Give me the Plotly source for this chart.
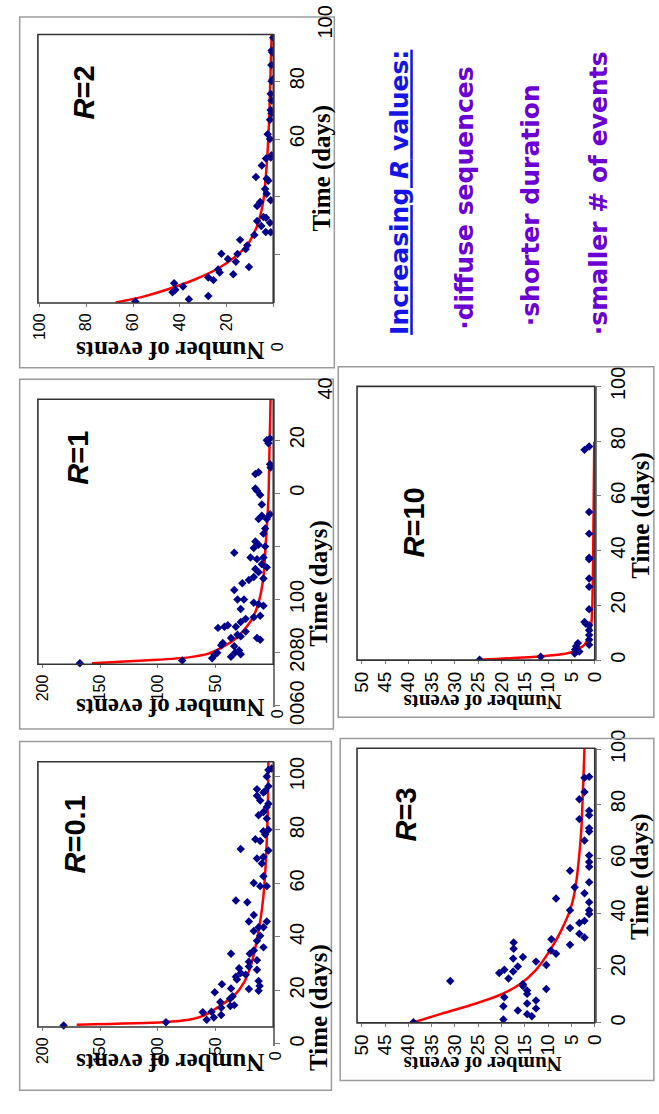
import plotly.graph_objects as go

W, H = 659, 1114

# ---------------- data ----------------
# R = 0.1
r01_events = [181.7, 93.0, 57.7, 51.5, 61.1, 53.5, 45.1, 45.1, 45.9, 37.2,
              33.8, 37.5, 35.2, 50.7, 44.5, 36.6, 32.4, 31.5, 28.2, 23.9,
              21.1, 12.7, 11.8, 12.7, 36.6, 29.6, 21.1, 21.1, 14.1, 20.3,
              16.9, 14.1, 14.1, 11.3, 16.9, 21.1, 16.9, 8.5, 12.7, 8.5,
              5.6, 32.4, 22.5, 16.9, 11.3, 8.5, 5.6, 9.9, 8.5, 14.1,
              4.2, 28.2, 15.5, 11.3, 8.5, 7.0, 4.2, 5.6, 12.7, 8.5,
              5.6, 4.2, 8.5, 7.0, 4.2, 14.1, 14.1, 11.3, 5.6, 4.2,
              1.4]
r01_days = [6.9, 8.1, 9.0, 9.9, 11.8, 12.0, 10.8, 13.5, 15.7, 14.2,
            14.5, 16.9, 17.8, 19.3, 22.3, 20.7, 25.1, 24.1, 26.5, 25.9,
            20.5, 19.9, 21.7, 23.5, 33.7, 28.3, 28.9, 30.7, 27.7, 33.7,
            34.9, 31.3, 38.6, 40.4, 42.2, 45.8, 48.2, 36.1, 43.6, 43.6,
            45.8, 53.6, 53.0, 60.2, 59.0, 62.7, 59.0, 67.5, 69.9, 69.3,
            72.3, 72.9, 76.5, 75.9, 79.5, 78.3, 80.1, 84.3, 85.5, 86.7,
            88.6, 89.8, 94.0, 94.6, 96.4, 95.2, 92.8, 91.0, 100.0, 102.4,
            103.0]
r01_fit_events = [170.4, 95.8, 73.2, 59.2, 45.1, 33.8, 25.4, 19.7, 15.5, 11.3, 8.5, 6.2, 4.8, 4.2]
r01_fit_days = [7.2, 8.1, 9.0, 10.8, 14.5, 18.1, 22.9, 28.9, 36.1, 45.8, 55.4, 69.9, 85.5, 105.5]

# R = 1
r1_events = [167.6, 78.9, 53.0, 50.7, 48.5, 36.6, 33.0, 28.2, 29.6, 33.8,
             45.1, 43.7, 36.6, 31.0, 28.2, 23.9, 14.1, 11.3, 47.9, 42.3,
             39.4, 32.4, 28.2, 23.9, 16.9, 11.3, 28.2, 31.0, 25.4, 16.9,
             12.7, 8.5, 33.8, 26.8, 21.1, 16.9, 12.7, 8.5, 15.5, 9.9,
             5.6, 33.8, 19.7, 14.1, 8.5, 16.9, 12.7, 7.0, 15.5, 8.5,
             7.0, 12.7, 9.9, 5.6, 2.8, 15.5, 14.1, 11.3, 9.9, 15.5,
             12.7, 2.3, 2.8, 4.2, 2.8, 5.6]
r1_days = [16.0, 17.0, 17.9, 19.2, 19.9, 18.4, 20.0, 19.4, 20.8, 22.4,
           22.8, 23.6, 25.5, 26.7, 26.1, 27.9, 25.5, 24.8, 29.3, 29.7,
           30.3, 29.7, 31.5, 32.7, 33.3, 33.9, 36.4, 40.0, 40.0, 38.8,
           38.2, 37.6, 43.6, 46.1, 47.3, 48.5, 50.3, 47.9, 51.5, 53.3,
           52.1, 57.6, 55.8, 55.2, 55.8, 59.4, 60.6, 60.0, 61.8, 64.8,
           66.7, 70.3, 71.5, 70.3, 72.1, 81.8, 81.0, 79.4, 75.8, 87.3,
           87.9, 89.7, 90.9, 98.8, 100.6, 100.0]
r1_fit_events = [157.2, 104.2, 73.2, 56.3, 45.1, 33.8, 25.4, 18.3, 12.7, 8.5, 6.2, 4.2, 3.4, 2.3]
r1_fit_days = [16.0, 17.2, 18.2, 19.6, 21.8, 24.8, 28.5, 32.7, 38.8, 48.5, 63.0, 77.6, 93.3, 115.4]

# R = 2
r2_events = [59.0, 36.1, 43.1, 41.9, 42.4, 38.6, 27.8, 27.8, 25.6, 22.9,
             17.1, 23.6, 19.4, 22.2, 16.0, 10.4, 15.3, 14.2, 11.8, 11.1,
             8.1, 6.9, 5.1, 3.2, 1.1, 4.2, 3.1, 1.4, 6.9, 5.6,
             1.1, 7.4, 3.5, 2.8, 2.1, 2.8, 3.1, 1.1, 0.7, 4.9,
             1.4, 2.4, 1.4, 0.7, 1.1, 0.7, 1.1, 0.7, 0.3, 0.8,
             0.4, 0.7, 0.0]
r2_days = [3.9, 4.7, 7.1, 8.0, 10.2, 9.1, 12.2, 5.8, 11.3, 13.9,
           13.3, 15.0, 18.6, 20.4, 17.6, 15.8, 20.3, 25.2, 22.0, 23.3,
           26.9, 31.7, 30.0, 27.9, 27.8, 33.1, 32.8, 31.1, 36.9, 38.3,
           38.9, 46.9, 42.8, 41.1, 45.6, 46.3, 53.3, 53.6, 54.4, 50.9,
           60.0, 61.7, 66.7, 68.9, 70.0, 73.3, 75.6, 80.0, 80.6, 85.6,
           90.0, 90.6, 95.0]
r2_fit_events = [67.4, 55.6, 44.4, 33.3, 23.6, 16.7, 11.1, 6.9, 4.2, 2.8, 1.7, 0.7]
r2_fit_days = [3.6, 5.6, 8.3, 11.6, 15.3, 19.1, 23.3, 30.0, 38.9, 51.1, 67.8, 96.1]

# R = 3
r3_events = [38.9, 31.0, 19.6, 20.5, 19.4, 19.6, 19.4, 18.5, 17.5, 17.5,
             17.4, 17.4, 16.5, 16.5, 15.4, 15.4, 15.4, 14.5, 14.5, 14.5,
             14.5, 13.5, 12.6, 12.6, 12.6, 10.4, 10.4, 9.4, 8.3, 8.3,
             9.3, 5.3, 5.3, 5.3, 5.3, 4.3, 3.3, 3.3, 2.2, 2.2,
             2.2, 2.2, 2.2, 2.2, 3.3, 3.3, 1.2, 1.2, 1.2, 1.2,
             1.2, 1.2, 1.2, 1.2, 1.2, 1.2, 1.2, 1.2]
r3_days = [0.2, 15.3, 1.2, 18.2, 19.4, 6.1, 9.4, 16.2, 18.8, 23.5,
           27.1, 29.4, 20.6, 4.5, 24.1, 14.1, 13.5, 10.6, 11.8, 7.1,
           3.2, 2.4, 22.4, 8.2, 5.3, 12.4, 21.2, 26.5, 25.3, 45.5,
           30.6, 28.6, 34.7, 41.2, 55.6, 49.6, 32.6, 36.5, 31.2, 37.3,
           47.4, 66.7, 84.4, 89.6, 74.5, 81.8, 90.0, 39.8, 41.2, 44.1,
           51.4, 57.1, 58.8, 61.2, 70.0, 71.2, 75.9, 77.6]
r3_fit_events = [38.9, 32.8, 25.8, 20.3, 16.1, 12.6, 9.2, 7.1, 5.3, 4.2, 3.5, 2.9, 2.6, 2.2]
r3_fit_days = [0.2, 3.4, 6.9, 10.2, 14.1, 19.4, 27.6, 34.1, 41.2, 48.8, 58.2, 70.0, 81.8, 100.4]

# R = 10
r10_events = [24.7, 11.6, 4.3, 4.2, 4.0, 3.6, 3.3, 2.2, 1.9, 1.2,
              1.2, 1.2, 1.2, 1.2, 1.2, 1.2, 1.2, 1.2, 1.2, 1.2,
              1.2, 2.2, 1.2]
r10_days = [0.1, 1.2, 2.4, 3.9, 5.1, 6.2, 3.1, 13.9, 13.3, 5.6,
            7.4, 9.2, 10.9, 12.7, 18.6, 26.8, 29.8, 36.8, 37.4, 46.2,
            54.1, 76.8, 78.0]
r10_fit_events = [24.7, 12.6, 7.1, 4.3, 2.2, 1.2, 0.7, 0.5, 0.3, 0.1]
r10_fit_days = [0.1, 1.2, 2.1, 3.3, 5.6, 9.2, 13.9, 20.9, 44.5, 79.8]

r_labels = ["0.1", "1", "2", "3", "10"]

top_events_ticks = [0, 50, 100, 150, 200]
r2_events_ticks = [0, 20, 40, 60, 80, 100]
bottom_events_ticks = [0, 5, 10, 15, 20, 25, 30, 35, 40, 45, 50]
day_ticks = [0, 20, 40, 60, 80, 100]
r1_day_ticks = [0, 20, 40, 60, 80, 100]
r1_day_ticktext = ["0060", "2080", "100", "", "0", "20"]
r2_day_ticks = [20, 40, 60, 80]
r2_day_ticktext = ["", "", "60", "80"]

summary_title = "Increasing <i>R</i> values:"
summary_items = ["·diffuse sequences", "·shorter duration", "·smaller # of events"]

# ---------------- helpers ----------------
def px(x):
    return x / W


def py(y):
    return 1 - y / H


NAVY = "#00008B"
RED = "#FF0000"
BOXC = "#333333"
AXC = "#7a7a7a"
FRAME = "#9a9a9a"
SANS = "Liberation Sans, Arial, sans-serif"
SERIF = "Liberation Serif, Times New Roman, serif"
TEXTF = "DejaVu Sans, sans-serif"

panels = [
    dict(ev=r01_events, dy=r01_days, fe=r01_fit_events, fd=r01_fit_days, lab=r_labels[0],
         box=(31.7, 768, 273.3, 1042.5), xr=[204, 0], ydom=(768, 1062), yr=[-0.7, 105.5],
         xt=top_events_ticks, xtt=["", "50", "100", "150", "200"], xfs=16,
         yt=day_ticks, ytt=[str(v) for v in day_ticks], yfs=20),
    dict(ev=r1_events, dy=r1_days, fe=r1_fit_events, fd=r1_fit_days, lab=r_labels[1],
         box=(31.7, 392.7, 273.3, 667), xr=[204, 0], ydom=(392.7, 711), yr=[-0.4, 115.4],
         xt=top_events_ticks, xtt=["", "50", "100", "150", "200"], xfs=16,
         yt=r1_day_ticks, ytt=r1_day_ticktext, yfs=20),
    dict(ev=r2_events, dy=r2_days, fe=r2_fit_events, fd=r2_fit_days, lab=r_labels[2],
         box=(31.7, 15, 273.3, 293), xr=[100.7, 0], ydom=(15, 293), yr=[3.4, 96.1],
         xt=r2_events_ticks, xtt=["", "20", "40", "60", "80", "100"], xfs=16,
         yt=r2_day_ticks, ytt=r2_day_ticktext, yfs=20),
    dict(ev=r3_events, dy=r3_days, fe=r3_fit_events, fd=r3_fit_days, lab=r_labels[3],
         box=(359.3, 754, 603.3, 1038.3), xr=[51, 0], ydom=(754, 1038.3), yr=[0, 100.4],
         xt=bottom_events_ticks, xtt=[str(v) for v in bottom_events_ticks], xfs=19,
         yt=day_ticks, ytt=[str(v) for v in day_ticks], yfs=20),
    dict(ev=r10_events, dy=r10_days, fe=r10_fit_events, fd=r10_fit_days, lab=r_labels[4],
         box=(359.3, 379.3, 603.3, 662.7), xr=[51, 0], ydom=(379.3, 662.7), yr=[0, 100],
         xt=bottom_events_ticks, xtt=[str(v) for v in bottom_events_ticks], xfs=19,
         yt=day_ticks, ytt=[str(v) for v in day_ticks], yfs=20),
]

fig = go.Figure()
shapes = []
annotations = []
layout = {}

for i, p in enumerate(panels, start=1):
    xa = "x" if i == 1 else f"x{i}"
    ya = "y" if i == 1 else f"y{i}"
    xkey = "xaxis" if i == 1 else f"xaxis{i}"
    ykey = "yaxis" if i == 1 else f"yaxis{i}"
    bx0, by0, bx1, by1 = p["box"]

    fig.add_trace(go.Scatter(x=p["fe"], y=p["fd"], mode="lines",
                             line=dict(color=RED, width=2.5, shape="spline", smoothing=0.6),
                             xaxis=xa, yaxis=ya, showlegend=False, hoverinfo="skip"))
    fig.add_trace(go.Scatter(x=p["ev"], y=p["dy"], mode="markers",
                             marker=dict(symbol="diamond", size=6.5, color=NAVY),
                             xaxis=xa, yaxis=ya, showlegend=False))

    layout[xkey] = dict(domain=[px(bx0), px(bx1)], range=p["xr"], anchor="free",
                        position=py(by1), showgrid=False, zeroline=False, showline=False,
                        tickmode="array", tickvals=p["xt"], ticktext=p["xtt"],
                        tickangle=-90, ticks="outside", ticklen=3, tickcolor=AXC,
                        tickfont=dict(family=SANS, size=p["xfs"], color="black"))
    layout[ykey] = dict(domain=[py(p["ydom"][1]), py(p["ydom"][0])], range=p["yr"],
                        anchor=xa, side="right", showgrid=False, zeroline=False,
                        showline=True, linecolor=AXC, linewidth=1.5,
                        tickmode="array", tickvals=p["yt"], ticktext=p["ytt"],
                        tickangle=-90, ticks="outside", ticklen=5, tickcolor=AXC,
                        tickfont=dict(family=SANS, size=p["yfs"], color="black"))

    shapes.append(dict(type="rect", xref="paper", yref="paper",
                       x0=px(bx0), x1=px(bx1), y0=py(by1), y1=py(by0),
                       line=dict(color=BOXC, width=1.6), layer="above"))

# frames around each panel
for (fx0, fy0, fx1, fy1) in [(13, -3, 336, 360), (13, 372, 335, 734), (13, 747, 333, 1108),
                             (340, 359, 664, 722), (342, 744, 664, 1098)]:
    shapes.append(dict(type="rect", xref="paper", yref="paper",
                       x0=px(fx0), x1=px(fx1), y0=py(fy1), y1=py(fy0),
                       line=dict(color=FRAME, width=1.5)))


def ann(text, x, y, angle, size, family=SANS, color="black", xanchor="center",
        yanchor="middle", **fontkw):
    annotations.append(dict(text=text, x=px(x), y=py(y), xref="paper", yref="paper",
                            showarrow=False, textangle=angle, xanchor=xanchor,
                            yanchor=yanchor,
                            font=dict(family=family, size=size, color=color, **fontkw)))


# R labels
for lab, (x, y) in zip(r_labels, [(70, 843), (72, 453), (80, 75), (410, 822), (418, 520)]):
    ann(f"<b><i>R</i>={lab}</b>", x, y, -90, 29)

# axis titles
for (x, y, s) in [(320, 1022, 25), (320, 583, 25), (323, 153, 25), (650, 887, 25), (650, 513, 25)]:
    ann("<b>Time (days)</b>", x, y, -90, s, family=SERIF)
for (x, y, s) in [(167, 1080, 25), (167, 712, 25), (167, 342, 25), (488, 1081, 21), (488, 706, 21)]:
    ann("<b>Number of events</b>", x, y, 180, s, family=SERIF)

# stray tick labels
ann("0", 276, 1072, -90, 16)
ann("0", 278, 718, -90, 16)
ann("0", 278, 338, -90, 16)
ann("40", 326, 382, -90, 20)
ann("100", 326, 2, -90, 20)

# summary text
ann(summary_title, 403, 328, -90, 25, family=TEXTF, color="#1414E6",
    yanchor="bottom", weight="bold", lineposition="under")
for item, x, y in zip(summary_items, [470, 537, 607], [323, 319, 328]):
    ann(item, x, y, -90, 25, family=TEXTF, color="#6A00D4",
        yanchor="bottom", weight="bold")

fig.update_layout(width=W, height=H, margin=dict(l=0, r=0, t=0, b=0),
                  paper_bgcolor="white", plot_bgcolor="white",
                  shapes=shapes, annotations=annotations, **layout)

fig.write_html("out.html")
